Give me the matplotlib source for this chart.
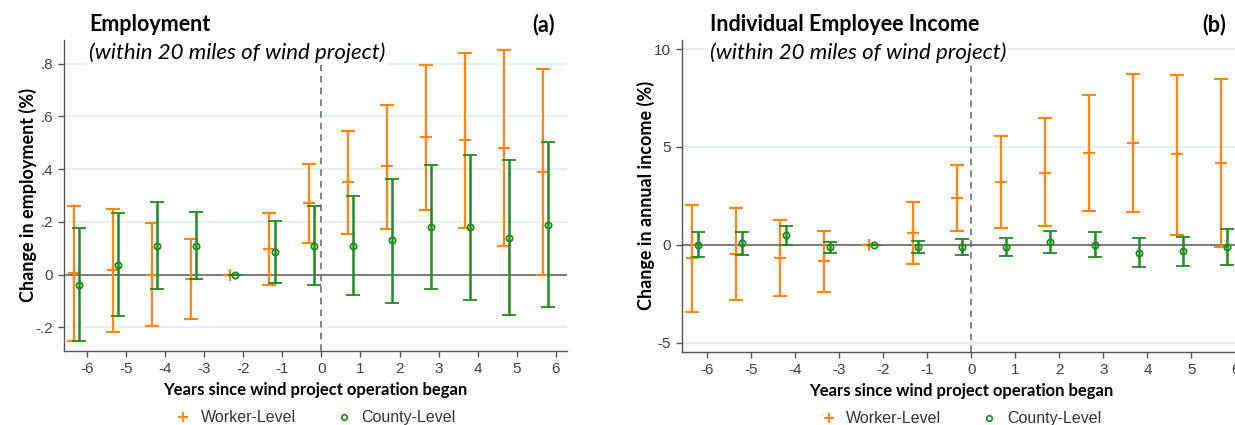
import matplotlib.pyplot as plt
from matplotlib.lines import Line2D

years = [-6, -5, -4, -3, -2, -1, 0, 1, 2, 3, 4, 5, 6]

# panel (a): employment
emp_worker = [0.005, 0.016, 0.0, -0.018, 0.0, 0.097, 0.27, 0.35, 0.411, 0.522, 0.512, 0.48, 0.389]
emp_worker_lo = [-0.25, -0.218, -0.195, -0.168, 0.0, -0.04, 0.121, 0.154, 0.174, 0.246, 0.176, 0.108, -0.003]
emp_worker_hi = [0.26, 0.25, 0.197, 0.134, 0.0, 0.234, 0.42, 0.546, 0.645, 0.794, 0.842, 0.852, 0.781]
emp_county = [-0.038, 0.038, 0.11, 0.11, 0.0, 0.086, 0.11, 0.11, 0.13, 0.18, 0.18, 0.14, 0.19]
emp_county_lo = [-0.253, -0.158, -0.055, -0.018, 0.0, -0.03, -0.039, -0.077, -0.106, -0.055, -0.095, -0.152, -0.122]
emp_county_hi = [0.178, 0.234, 0.276, 0.237, 0.0, 0.205, 0.26, 0.297, 0.364, 0.417, 0.455, 0.435, 0.503]

# panel (b): income
inc_worker = [-0.67, -0.48, -0.67, -0.85, 0.0, 0.58, 2.39, 3.21, 3.69, 4.71, 5.19, 4.62, 4.2]
inc_worker_lo = [-3.46, -2.83, -2.63, -2.42, 0.0, -0.99, 0.72, 0.84, 0.96, 1.74, 1.67, 0.49, -0.1]
inc_worker_hi = [2.03, 1.89, 1.26, 0.72, 0.0, 2.18, 4.06, 5.56, 6.47, 7.63, 8.75, 8.69, 8.48]
inc_county = [0.0, 0.07, 0.49, -0.14, 0.0, -0.1, -0.12, -0.1, 0.14, 0.0, -0.41, -0.34, -0.1]
inc_county_lo = [-0.65, -0.51, 0.0, -0.44, 0.0, -0.41, -0.55, -0.58, -0.41, -0.65, -1.16, -1.09, -1.02]
inc_county_hi = [0.65, 0.65, 0.96, 0.14, 0.0, 0.2, 0.27, 0.34, 0.68, 0.65, 0.34, 0.41, 0.82]

emp_ticks = [-0.2, 0, 0.2, 0.4, 0.6, 0.8]
emp_ticklabels = ['-.2', '0', '.2', '.4', '.6', '.8']
inc_ticks = [-5, 0, 5, 10]
inc_ticklabels = ['-5', '0', '5', '10']

ORANGE = '#ff8515'
GREEN = '#1e8c1e'
TITLEFONT = 'Lato'
TICKFONT = 'Liberation Sans'


def panel(ax, est_w, lo_w, hi_w, est_c, lo_c, hi_c, ylim, ticks, ticklabels,
          title, tag, ylabel):
    xw = [y - 0.33 for y in years]
    xc = [y - 0.2 for y in years]
    for t in ticks:
        if t != 0:
            ax.axhline(t, color='#e6eff2', lw=1.6, zorder=0)
    ax.axhline(0, color='#707070', lw=1.3, zorder=1)
    ax.axvline(0, color='#707070', lw=1.2, ls=(0, (4, 3)), zorder=1)

    ax.errorbar(xw, est_w, yerr=[[e - l for e, l in zip(est_w, lo_w)],
                                 [h - e for e, h in zip(est_w, hi_w)]],
                fmt='+', color=ORANGE, ms=9, mew=1.6, elinewidth=1.6,
                capsize=5, capthick=1.6, zorder=3)
    ax.errorbar(xc, est_c, yerr=[[e - l for e, l in zip(est_c, lo_c)],
                                 [h - e for e, h in zip(est_c, hi_c)]],
                fmt='o', color=GREEN, mfc='none', ms=4.5, mew=1.3,
                elinewidth=1.8, capsize=5, capthick=1.8, zorder=4)

    ax.set_ylim(ylim)
    ax.set_yticks(ticks)
    ax.set_yticklabels(ticklabels)
    ax.set_xticks(years)
    ax.set_xticklabels([str(y) for y in years])
    for s in ['top', 'right']:
        ax.spines[s].set_visible(False)
    for s in ['left', 'bottom']:
        ax.spines[s].set_color('#555555')
        ax.spines[s].set_linewidth(1.0)
    ax.tick_params(colors='#555555', length=4.5, width=1)
    for lab in ax.get_xticklabels() + ax.get_yticklabels():
        lab.set_fontfamily(TICKFONT)
        lab.set_fontsize(11)
        lab.set_color('#404040')

    ax.set_ylabel(ylabel, fontfamily=TITLEFONT, fontweight='bold', fontsize=13, labelpad=-1)
    ax.set_xlabel('Years since wind project operation began', fontfamily=TITLEFONT,
                  fontweight='bold', fontsize=12, labelpad=4)

    ax.text(0.05, 1.05, title, transform=ax.transAxes, fontfamily=TITLEFONT,
            fontweight='bold', fontsize=15.5, va='center', ha='left')
    ax.text(0.05, 0.96, '(within 20 miles of wind project)', transform=ax.transAxes,
            fontfamily=TITLEFONT, fontstyle='italic', fontsize=16, va='center', ha='left',
            bbox=dict(facecolor='white', edgecolor='none', pad=1.5), zorder=6)
    ax.text(0.975, 1.05, tag, transform=ax.transAxes, fontfamily=TITLEFONT,
            fontweight='bold', fontsize=15.5, va='center', ha='right')

    handles = [Line2D([], [], ls='none', marker='+', color=ORANGE, ms=7, mew=1.5),
               Line2D([], [], ls='none', marker='o', color=GREEN, mfc='none', ms=4, mew=1.3)]
    leg = ax.legend(handles, ['Worker-Level', 'County-Level'], loc='center',
                    bbox_to_anchor=(0.5, -0.215), ncol=2, frameon=False,
                    handlelength=1.0, handletextpad=0.6, columnspacing=2.5,
                    prop={'family': TICKFONT, 'size': 11.5})
    for t in leg.get_texts():
        t.set_color('#333333')


fig = plt.figure(figsize=(12.35, 4.25), dpi=100)
ax1 = fig.add_axes([0.052, 0.174, 0.407, 0.732])
ax2 = fig.add_axes([0.552, 0.172, 0.452, 0.734])

panel(ax1, emp_worker, emp_worker_lo, emp_worker_hi, emp_county, emp_county_lo, emp_county_hi,
      (-0.29, 0.89), emp_ticks, emp_ticklabels, 'Employment', '(a)', 'Change in employment (%)')
ax1.set_xlim(-6.58, 6.28)

panel(ax2, inc_worker, inc_worker_lo, inc_worker_hi, inc_county, inc_county_lo, inc_county_hi,
      (-5.48, 10.47), inc_ticks, inc_ticklabels, 'Individual Employee Income', '(b)',
      'Change in annual income (%)')
ax2.set_xlim(-6.57, 6.1)

fig.savefig('out.png', dpi=100, facecolor='white')
